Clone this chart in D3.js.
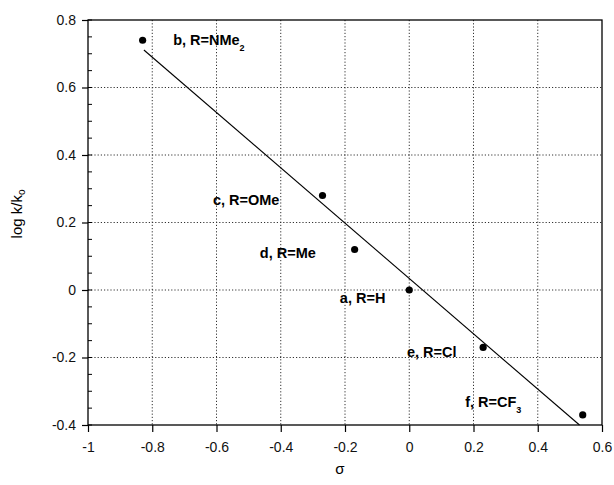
<!DOCTYPE html>
<style>
body { margin: 0; background: #fff; }
svg { font-family: Arial, "Liberation Sans", sans-serif; }
.grid line { stroke: #333; stroke-dasharray: 1.2 2; stroke-width: 1; }
.lbl { font-weight: bold; font-size: 14.5px; }
.tick text { font-size: 14px; fill: #111; }
</style>
<svg width="614" height="485"></svg>
<script src="https://d3js.org/d3.v7.min.js"></script>
<script>

// substituent constants and rate data
var sigma = [0.0, -0.83, -0.27, -0.17, 0.23, 0.54],
    logK = [0.0, 0.74, 0.28, 0.12, -0.17, -0.37];

// point labels: letter, substituent, subscript, anchor (data coords, left / middle)
var labelText = ["a, R=H", "b, R=NMe", "c, R=OMe", "d, R=Me", "e, R=Cl", "f, R=CF"],
    labelSub = ["", "2", "", "", "", "3"],
    labelX = [-0.216, -0.735, -0.611, -0.465, -0.007, 0.174],
    labelY = [-0.024, 0.741, 0.267, 0.110, -0.184, -0.332];

// fitted line endpoints
var fitX = [-0.826, 0.53],
    fitY = [0.711, -0.40];

var xTicks = [-1, -0.8, -0.6, -0.4, -0.2, 0, 0.2, 0.4, 0.6],
    yTicks = [-0.4, -0.2, 0, 0.2, 0.4, 0.6, 0.8],
    yMinor = d3.range(-0.4, 0.801, 0.05);

var svg = d3.select("svg"),
    pl = 88, pr = 602, pt = 20, pb = 425;

var x = d3.scaleLinear().domain([-1, 0.6]).range([pl, pr]),
    y = d3.scaleLinear().domain([-0.4, 0.8]).range([pb, pt]);

// grid
var grid = svg.append("g").attr("class", "grid");
grid.selectAll(".gx").data(xTicks.slice(1, -1)).enter().append("line")
    .attr("x1", function(d) { return x(d); }).attr("x2", function(d) { return x(d); })
    .attr("y1", pt).attr("y2", pb);
grid.selectAll(".gy").data(yTicks.slice(1, -1)).enter().append("line")
    .attr("y1", function(d) { return y(d); }).attr("y2", function(d) { return y(d); })
    .attr("x1", pl).attr("x2", pr);

// frame
svg.append("rect")
    .attr("x", pl).attr("y", pt)
    .attr("width", pr - pl).attr("height", pb - pt)
    .attr("fill", "none").attr("stroke", "#000").attr("stroke-width", 1.3);

// axes
var fmt = function(d) { return String(+d.toFixed(1)); };

svg.append("g")
    .attr("transform", "translate(0," + pb + ")")
    .call(d3.axisBottom(x).tickValues(xTicks).tickSize(7).tickPadding(10).tickFormat(fmt))
    .call(function(g) { g.select(".domain").remove(); });

svg.append("g")
    .attr("transform", "translate(" + pl + ",0)")
    .call(d3.axisLeft(y).tickValues(yTicks).tickSize(6).tickPadding(6).tickFormat(fmt))
    .call(function(g) { g.select(".domain").remove(); });

svg.append("g")
    .selectAll("line").data(yMinor).enter().append("line")
    .attr("x1", pl).attr("x2", pl + 4)
    .attr("y1", function(d) { return y(d); }).attr("y2", function(d) { return y(d); })
    .attr("stroke", "#000");

svg.selectAll(".tick line").attr("stroke", "#000").attr("stroke-width", 1.2);

// axis titles
svg.append("text")
    .attr("x", (pl + pr) / 2 - 5).attr("y", 474)
    .attr("text-anchor", "middle").attr("font-size", 15)
    .text("σ");

var yt = svg.append("text")
    .attr("transform", "translate(22,214) rotate(-90)")
    .attr("text-anchor", "middle").attr("font-size", 15);
yt.append("tspan").text("log k/k");
yt.append("tspan").attr("dy", 3).attr("font-size", 10).text("o");

// fit line
svg.append("line")
    .attr("x1", x(fitX[0])).attr("y1", y(fitY[0]))
    .attr("x2", x(fitX[1])).attr("y2", y(fitY[1]))
    .attr("stroke", "#000").attr("stroke-width", 1.1);

// points
svg.selectAll(".pt").data(sigma).enter().append("circle")
    .attr("cx", function(d) { return x(d); })
    .attr("cy", function(d, i) { return y(logK[i]); })
    .attr("r", 3.6).attr("fill", "#000");

// labels
var lab = svg.selectAll(".lbl").data(labelText).enter().append("text")
    .attr("class", "lbl")
    .attr("x", function(d, i) { return x(labelX[i]); })
    .attr("y", function(d, i) { return y(labelY[i]) + 5; });
lab.append("tspan").text(function(d) { return d; });
lab.append("tspan").attr("dy", 6).attr("font-size", 9)
    .text(function(d, i) { return labelSub[i]; });

</script>
